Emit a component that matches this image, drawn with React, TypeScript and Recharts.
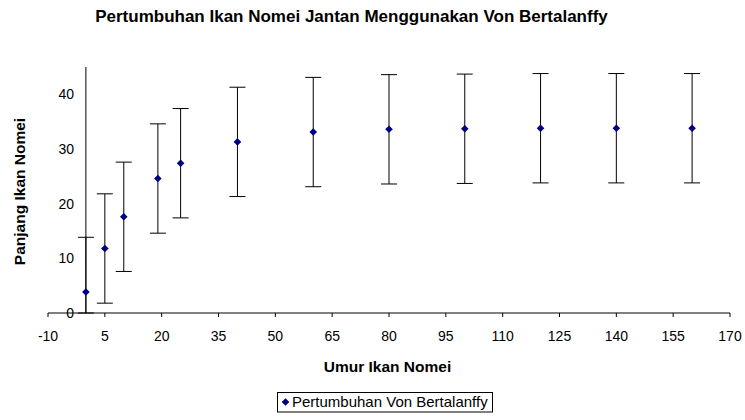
import React from 'react';
import { ScatterChart, Scatter, XAxis, YAxis, ErrorBar, ReferenceLine } from 'recharts';

const ages = [0, 5, 10, 19, 25, 40, 60, 80, 100, 120, 140, 160];
const lengths = [3.85, 11.8, 17.6, 24.6, 27.4, 31.3, 33.1, 33.6, 33.7, 33.8, 33.8, 33.8];
const errors = [10, 10, 10, 10, 10, 10, 10, 10, 10, 10, 10, 10];
const xTicks = [-10, 5, 20, 35, 50, 65, 80, 95, 110, 125, 140, 155, 170];
const yTicks = [0, 10, 20, 30, 40];
const Y_MIN = 0;
const Y_MAX = 45;

const title = 'Pertumbuhan Ikan Nomei Jantan Menggunakan Von Bertalanffy';
const xLabel = 'Umur Ikan Nomei';
const yLabel = 'Panjang Ikan Nomei';
const seriesName = 'Pertumbuhan Von Bertalanffy';

const data = ages.map((a, i) => ({ age: a, length: lengths[i], err: errors[i] }));

// error bars are clipped at the plot area edge (as in the original chart)
const clippedError = (d: any) => [Math.min(d.err, d.length - Y_MIN), Math.min(d.err, Y_MAX - d.length)];

const FONT = '"Liberation Sans", Arial, sans-serif';
const NAVY = '#000080';

const Diamond = (props: any) => {
  const { cx, cy } = props;
  const r = 3.8;
  return (
    <polygon
      points={`${cx},${cy - r} ${cx + r},${cy} ${cx},${cy + r} ${cx - r},${cy}`}
      fill={NAVY}
    />
  );
};

const YTick = (props: any) => {
  const { x, y, payload } = props;
  return (
    <text x={x + 26} y={y} dy={5} textAnchor="end" fontSize={14} fontFamily={FONT} fill="#000">
      {payload.value}
    </text>
  );
};

export default function App() {
  return (
    <div style={{ position: 'absolute', left: 0, top: 0, width: 745, height: 420, background: '#fff' }}>
      <ScatterChart width={745} height={420} margin={{ top: 67, right: 15, bottom: 67, left: 8 }}>
        <XAxis
          type="number"
          dataKey="age"
          domain={[-10, 170]}
          ticks={xTicks}
          interval={0}
          height={40}
          axisLine={{ stroke: '#000' }}
          tickLine={{ stroke: '#000' }}
          tickSize={4}
          tickMargin={14}
          tick={{ fill: '#000', fontSize: 14, fontFamily: FONT }}
          allowDataOverflow
        />
        <YAxis
          type="number"
          dataKey="length"
          domain={[Y_MIN, Y_MAX]}
          ticks={yTicks}
          interval={0}
          width={40}
          axisLine={false}
          tickLine={false}
          tickSize={0}
          tickMargin={0}
          tick={<YTick />}
          allowDataOverflow
        />
        <ReferenceLine x={0} stroke="#000" strokeWidth={1} />
        <Scatter name={seriesName} data={data} fill={NAVY} shape={<Diamond />} isAnimationActive={false}>
          <ErrorBar dataKey={clippedError} direction="y" width={8} stroke="#000" strokeWidth={1} isAnimationActive={false} />
        </Scatter>
      </ScatterChart>
      <svg
        width={745}
        height={420}
        style={{ position: 'absolute', left: 0, top: 0, pointerEvents: 'none' }}
        fontFamily={FONT}
      >
        <text x={351.5} y={22.3} textAnchor="middle" fontWeight="bold" fontSize={17} fill="#000">
          {title}
        </text>
        <text x={387.5} y={372} textAnchor="middle" fontWeight="bold" fontSize={15.5} fill="#000">
          {xLabel}
        </text>
        <text
          x={25}
          y={191.5}
          textAnchor="middle"
          fontWeight="bold"
          fontSize={15.5}
          fill="#000"
          transform="rotate(-90 25 191.5)"
        >
          {yLabel}
        </text>
        <rect x={277.5} y={392.5} width={215} height={19.5} fill="#fff" stroke="#000" strokeWidth={1} />
        <Diamond cx={285.5} cy={402} />
        <text x={292} y={407} fontSize={15} fill="#000">
          {seriesName}
        </text>
      </svg>
    </div>
  );
}
